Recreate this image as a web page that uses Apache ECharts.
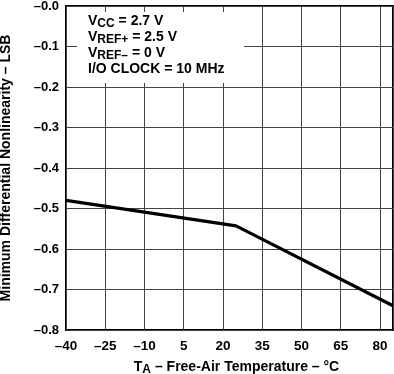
<!DOCTYPE html>
<html><head><meta charset="utf-8">
<script src="https://cdn.jsdelivr.net/npm/echarts@6/dist/echarts.min.js"></script>
<style>html,body{margin:0;padding:0;background:#fff}#c{width:394px;height:374px}</style>
</head><body><div id="c"></div>
<script>
const temps = [-40, 25, 85];
const minDNL = [-0.48, -0.543, -0.74];
const xTicks = [-40, -25, -10, 5, 20, 35, 50, 65, 80];
const yTicks = [-0.8, -0.7, -0.6, -0.5, -0.4, -0.3, -0.2, -0.1, 0];
const conditions = [
  ['V', 'CC', ' = 2.7 V'],
  ['V', 'REF+', ' = 2.5 V'],
  ['V', 'REF–', ' = 0 V'],
  ['I/O CLOCK = 10 MHz', '', '']
];
const FONT = '"Liberation Sans", Arial, Helvetica, sans-serif';
const chart = echarts.init(document.getElementById('c'), null, {renderer: 'canvas'});
const condText = conditions.map(c => '{m|' + c[0] + '}' + (c[1] ? '{s|' + c[1] + '}' : '') + (c[2] ? '{m|' + c[2] + '}' : '')).join('\n');
chart.setOption({
  animation: false,
  backgroundColor: '#fff',
  grid: {left: 66, right: 1, top: 6, bottom: 44, show: true, borderColor: '#000', borderWidth: 2, backgroundColor: 'transparent',
    containLabel: false, outerBoundsMode: 'none'},
  xAxis: {
    type: 'value', min: -40, max: 85, interval: 15,
    axisLine: {show: false}, axisTick: {show: false},
    splitLine: {show: true, lineStyle: {color: '#444', width: 1}},
    axisLabel: {show: true, color: '#000', fontWeight: 'bold', fontSize: 13.5, fontFamily: FONT, margin: 9, showMaxLabel: false,
      formatter: v => xTicks.includes(v) ? (v < 0 ? '–' + Math.abs(v) : String(v)) : ''},
    name: '{m|T}{s|A}{m| – Free-Air Temperature – °C}', nameLocation: 'middle', nameGap: 28,
    nameTextStyle: {color: '#000', fontFamily: FONT, padding: [0, 0, 0, 14], rich: {
      m: {fontSize: 14, fontWeight: 'bold', fontFamily: FONT, color: '#000', lineHeight: 16},
      s: {fontSize: 12, fontWeight: 'bold', fontFamily: FONT, color: '#000', lineHeight: 16, padding: [6, 0, 0, 0]}
    }}
  },
  yAxis: {
    type: 'value', min: -0.8, max: 0, interval: 0.1,
    axisLine: {show: false}, axisTick: {show: false},
    splitLine: {show: true, lineStyle: {color: '#444', width: 1}},
    axisLabel: {color: '#000', fontWeight: 'bold', fontSize: 13, fontFamily: FONT, margin: 7,
      formatter: v => '–' + Math.abs(v).toFixed(1)},
    name: 'Minimum Differential Nonlinearity – LSB', nameLocation: 'middle', nameGap: 53, nameRotate: 90,
    nameTextStyle: {color: '#000', fontWeight: 'bold', fontSize: 14, fontFamily: FONT}
  },
  graphic: [
    {type: 'rect', left: 77, top: 12, shape: {width: 167, height: 71}, style: {fill: '#fff'}, z: 50},
    {type: 'text', left: 88, top: 12, z: 51, style: {
      text: condText, fill: '#000', font: 'bold 14px ' + FONT,
      rich: {
        m: {fontSize: 14, fontWeight: 'bold', fontFamily: FONT, fill: '#000', lineHeight: 16},
        s: {fontSize: 12, fontWeight: 'bold', fontFamily: FONT, fill: '#000', lineHeight: 16, padding: [6, 0, 0, 0]}
      }
    }}
  ],
  series: [{
    type: 'line', data: temps.map((t, i) => [t, minDNL[i]]),
    symbol: 'none', lineStyle: {color: '#000', width: 3.2}, z: 10
  }]
});
</script></body></html>
